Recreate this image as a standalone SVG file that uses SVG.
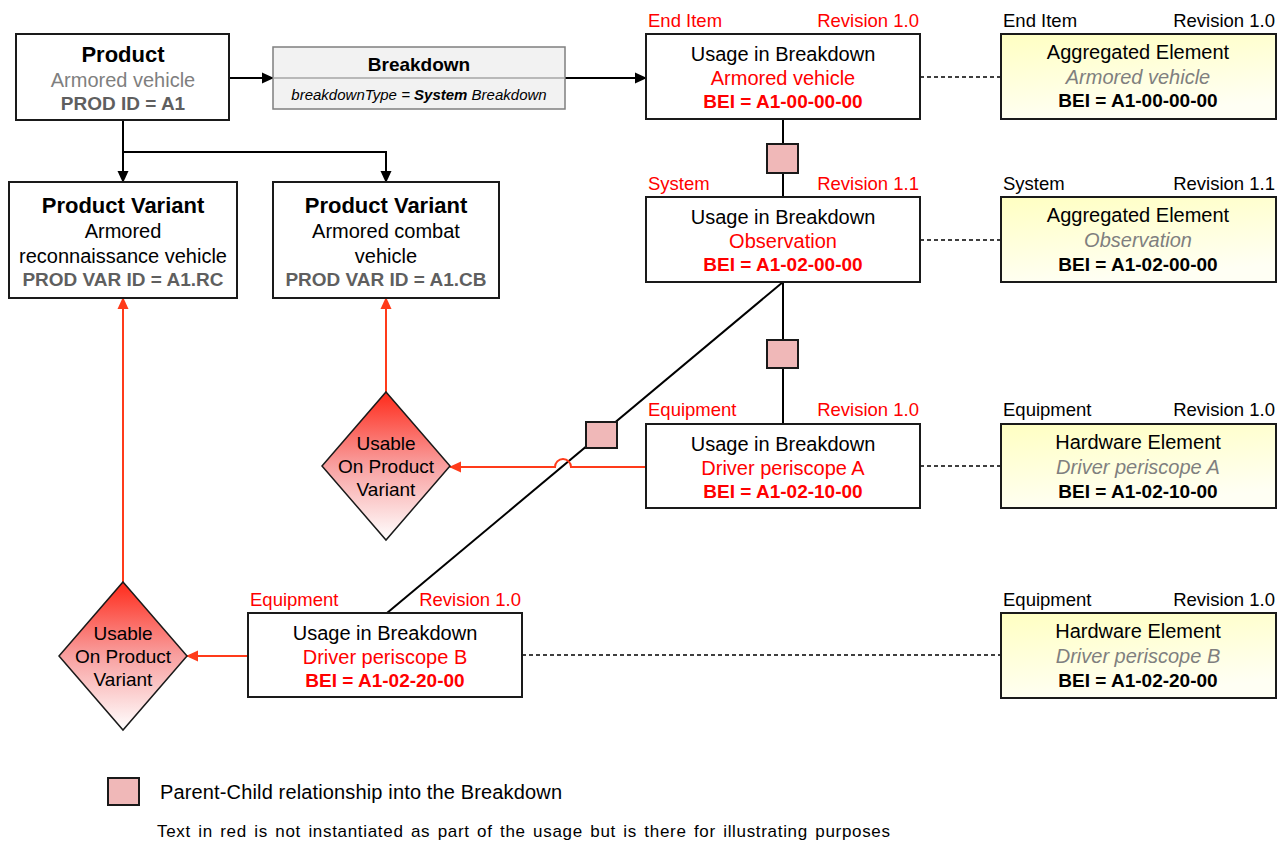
<svg xmlns="http://www.w3.org/2000/svg" width="1287" height="843" viewBox="0 0 1287 843">
  <defs>
    <linearGradient id="yellowFill" x1="0" y1="0" x2="0.3" y2="1">
      <stop offset="0" stop-color="#FFFFC2"/>
      <stop offset="1" stop-color="#FFFFF4"/>
    </linearGradient>
    <linearGradient id="redFill" x1="0" y1="0" x2="0" y2="1">
      <stop offset="0" stop-color="#FF2A1A"/>
      <stop offset="0.5" stop-color="#F8A0A0"/>
      <stop offset="1" stop-color="#FFFFFF"/>
    </linearGradient>
    <marker id="arrowBlack" markerWidth="12" markerHeight="12" refX="11" refY="6" orient="auto" markerUnits="userSpaceOnUse">
      <path d="M0,0.5 L12,6 L0,11.5 Z" fill="#000"/>
    </marker>
    <marker id="arrowRed" markerWidth="12" markerHeight="12" refX="11" refY="6" orient="auto" markerUnits="userSpaceOnUse">
      <path d="M0,0.5 L12,6 L0,11.5 Z" fill="#FF3B1A"/>
    </marker>
  </defs>
  <style>
    text { font-family: "Liberation Sans", Arial, sans-serif; fill: #000; }
    .box { fill: #fff; stroke: #1a1a1a; stroke-width: 2; }
    .elem { fill: url(#yellowFill); stroke: #1a1a1a; stroke-width: 2; }
    .bd { fill: #F2F2F2; stroke: #7F7F7F; stroke-width: 1.5; }
    .dia { fill: url(#redFill); stroke: #1a1a1a; stroke-width: 1.5; }
    .sq { fill: #F0B8B8; stroke: #1a1a1a; stroke-width: 2; }
    .c { text-anchor: middle; }
    .r { text-anchor: end; }
    .t22b { font-size: 22px; font-weight: bold; }
    .t20 { font-size: 20px; }
    .t18 { font-size: 18.5px; }
    .t19 { font-size: 19px; }
    .bold19 { font-size: 19px; font-weight: bold; }
    .gray { fill: #7F7F7F; }
    .dgray { fill: #5F5F5F; }
    .red { fill: #FF0000; }
    .it { font-style: italic; }
    .blk { fill: none; stroke: #000; stroke-width: 2; }
    .redl { fill: none; stroke: #FF3B1A; stroke-width: 2; }
    .dash { fill: none; stroke: #000; stroke-width: 1.5; stroke-dasharray: 4 3; }
  </style>

  <!-- connectors -->
  <g id="connectors">
    <line class="blk" x1="229" y1="78" x2="273" y2="78" marker-end="url(#arrowBlack)"/>
    <line class="blk" x1="565" y1="78" x2="646" y2="78" marker-end="url(#arrowBlack)"/>
    <line class="blk" x1="123" y1="120" x2="123" y2="182" marker-end="url(#arrowBlack)"/>
    <polyline class="blk" points="123,152 386,152 386,182" marker-end="url(#arrowBlack)"/>
    <line class="blk" x1="783" y1="119" x2="783" y2="197"/>
    <line class="blk" x1="783" y1="282" x2="783" y2="424"/>
    <line class="blk" x1="783" y1="282" x2="387" y2="613"/>
    <line class="dash" x1="920" y1="77" x2="1001" y2="77"/>
    <line class="dash" x1="920" y1="240" x2="1001" y2="240"/>
    <line class="dash" x1="920" y1="466" x2="1001" y2="466"/>
    <line class="dash" x1="522" y1="655" x2="1001" y2="655"/>
    <line class="redl" x1="386" y1="392" x2="386" y2="298" marker-end="url(#arrowRed)"/>
    <path class="redl" d="M646,467 H571 A8,8 0 0 0 555,467 H450" marker-end="url(#arrowRed)"/>
    <line class="redl" x1="123" y1="582" x2="123" y2="298" marker-end="url(#arrowRed)"/>
    <line class="redl" x1="248" y1="656" x2="187" y2="656" marker-end="url(#arrowRed)"/>
  </g>

  <!-- parent-child relationship markers -->
  <g id="relationships">
    <rect class="sq" x="767" y="144" width="31" height="29"/>
    <rect class="sq" x="767" y="340" width="31" height="28"/>
    <rect class="sq" x="586" y="422" width="31" height="26"/>
  </g>

  <g id="product">
    <rect class="box" x="16" y="34" width="213" height="86"/>
    <text class="c t22b" x="123" y="62">Product</text>
    <text class="c t20 gray" x="123" y="87">Armored vehicle</text>
    <text class="c bold19 dgray" x="123" y="110">PROD ID = A1</text>
  </g>

  <g id="breakdown">
    <rect class="bd" x="273" y="47" width="292" height="62"/>
    <line x1="273" y1="78" x2="565" y2="78" stroke="#A6A6A6" stroke-width="1.5"/>
    <text class="c" x="419" y="71" font-size="19" font-weight="bold" fill="#262626">Breakdown</text>
    <text class="c it" x="419" y="100" font-size="15" fill="#262626">breakdownType = <tspan font-weight="bold">System</tspan> Breakdown</text>
  </g>

  <g id="variant-rc">
    <rect class="box" x="9" y="182" width="228" height="116"/>
    <text class="c t22b" x="123" y="213">Product Variant</text>
    <text class="c t20" x="123" y="238">Armored</text>
    <text class="c t20" x="123" y="263">reconnaissance vehicle</text>
    <text class="c bold19 dgray" x="123" y="286">PROD VAR ID = A1.RC</text>
  </g>

  <g id="variant-cb">
    <rect class="box" x="273" y="182" width="226" height="116"/>
    <text class="c t22b" x="386" y="213">Product Variant</text>
    <text class="c t20" x="386" y="238">Armored combat</text>
    <text class="c t20" x="386" y="263">vehicle</text>
    <text class="c bold19 dgray" x="386" y="286">PROD VAR ID = A1.CB</text>
  </g>

  <g id="usable-a">
    <polygon class="dia" points="386,392 450,466 386,540 322,466"/>
    <text class="c t19" x="386" y="450">Usable</text>
    <text class="c t19" x="386" y="473">On Product</text>
    <text class="c t19" x="386" y="496">Variant</text>
  </g>

  <g id="usable-b">
    <polygon class="dia" points="123,582 187,656 123,730 59,656"/>
    <text class="c t19" x="123" y="640">Usable</text>
    <text class="c t19" x="123" y="663">On Product</text>
    <text class="c t19" x="123" y="686">Variant</text>
  </g>

  <g id="usage-end-item">
    <text class="t18 red" x="648" y="27">End Item</text>
    <text class="t18 red r" x="919" y="27">Revision 1.0</text>
    <rect class="box" x="646" y="34" width="274" height="85"/>
    <text class="c t20" x="783" y="61">Usage in Breakdown</text>
    <text class="c t20 red" x="783" y="85">Armored vehicle</text>
    <text class="c bold19 red" x="783" y="108">BEI = A1-00-00-00</text>
  </g>

  <g id="usage-system">
    <text class="t18 red" x="648" y="190">System</text>
    <text class="t18 red r" x="919" y="190">Revision 1.1</text>
    <rect class="box" x="646" y="197" width="274" height="85"/>
    <text class="c t20" x="783" y="224">Usage in Breakdown</text>
    <text class="c t20 red" x="783" y="248">Observation</text>
    <text class="c bold19 red" x="783" y="271">BEI = A1-02-00-00</text>
  </g>

  <g id="usage-periscope-a">
    <text class="t18 red" x="648" y="416">Equipment</text>
    <text class="t18 red r" x="919" y="416">Revision 1.0</text>
    <rect class="box" x="646" y="424" width="274" height="84"/>
    <text class="c t20" x="783" y="451">Usage in Breakdown</text>
    <text class="c t20 red" x="783" y="475">Driver periscope A</text>
    <text class="c bold19 red" x="783" y="498">BEI = A1-02-10-00</text>
  </g>

  <g id="usage-periscope-b">
    <text class="t18 red" x="250" y="606">Equipment</text>
    <text class="t18 red r" x="521" y="606">Revision 1.0</text>
    <rect class="box" x="248" y="613" width="274" height="84"/>
    <text class="c t20" x="385" y="640">Usage in Breakdown</text>
    <text class="c t20 red" x="385" y="664">Driver periscope B</text>
    <text class="c bold19 red" x="385" y="687">BEI = A1-02-20-00</text>
  </g>

  <g id="element-end-item">
    <text class="t18" x="1003" y="27">End Item</text>
    <text class="t18 r" x="1275" y="27">Revision 1.0</text>
    <rect class="elem" x="1001" y="34" width="275" height="85"/>
    <text class="c t20" x="1138" y="59">Aggregated Element</text>
    <text class="c t20 it gray" x="1138" y="84">Armored vehicle</text>
    <text class="c bold19" x="1138" y="107">BEI = A1-00-00-00</text>
  </g>

  <g id="element-system">
    <text class="t18" x="1003" y="190">System</text>
    <text class="t18 r" x="1275" y="190">Revision 1.1</text>
    <rect class="elem" x="1001" y="197" width="275" height="85"/>
    <text class="c t20" x="1138" y="222">Aggregated Element</text>
    <text class="c t20 it gray" x="1138" y="247">Observation</text>
    <text class="c bold19" x="1138" y="271">BEI = A1-02-00-00</text>
  </g>

  <g id="element-periscope-a">
    <text class="t18" x="1003" y="416">Equipment</text>
    <text class="t18 r" x="1275" y="416">Revision 1.0</text>
    <rect class="elem" x="1001" y="424" width="275" height="84"/>
    <text class="c t20" x="1138" y="449">Hardware Element</text>
    <text class="c t20 it gray" x="1138" y="474">Driver periscope A</text>
    <text class="c bold19" x="1138" y="498">BEI = A1-02-10-00</text>
  </g>

  <g id="element-periscope-b">
    <text class="t18" x="1003" y="606">Equipment</text>
    <text class="t18 r" x="1275" y="606">Revision 1.0</text>
    <rect class="elem" x="1001" y="613" width="275" height="85"/>
    <text class="c t20" x="1138" y="638">Hardware Element</text>
    <text class="c t20 it gray" x="1138" y="663">Driver periscope B</text>
    <text class="c bold19" x="1138" y="687">BEI = A1-02-20-00</text>
  </g>

  <g id="legend">
    <rect class="sq" x="108" y="778" width="31" height="27"/>
    <text x="160" y="799" font-size="20" textLength="402" lengthAdjust="spacing">Parent-Child relationship into the Breakdown</text>
    <text x="157" y="837" font-size="17" word-spacing="2" textLength="733" lengthAdjust="spacing">Text in red is not instantiated as part of the usage but is there for illustrating purposes</text>
  </g>
</svg>
